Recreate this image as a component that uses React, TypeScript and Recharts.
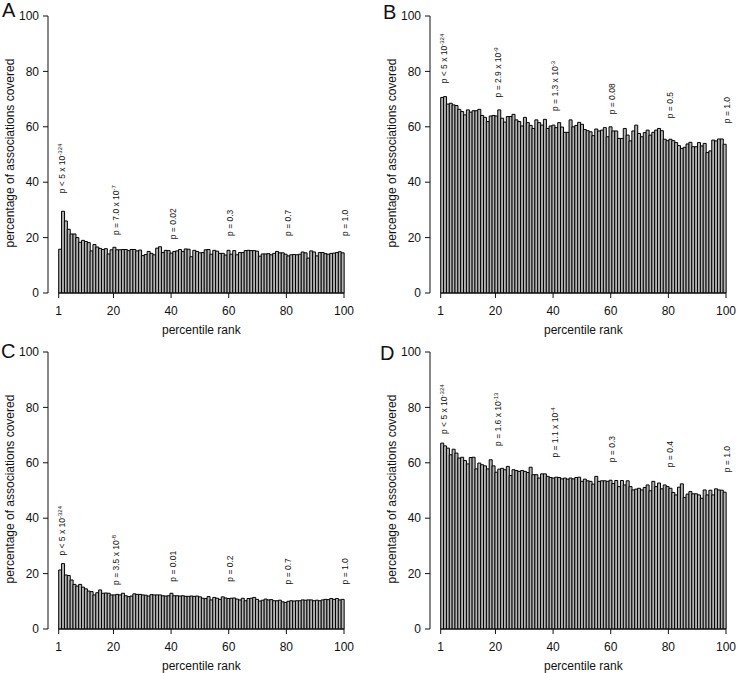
import React from 'react';
import { BarChart, Bar, XAxis, YAxis, ReferenceDot, ReferenceLine, Label } from 'recharts';

const ranks: number[] = Array.from({ length: 100 }, (_, i) => i + 1);
const xTicks = [1, 20, 40, 60, 80, 100];
const yTicks = [0, 20, 40, 60, 80, 100];
const annRanks = [1, 20, 40, 60, 80, 100];

const valuesA = [15.8, 29.5, 26.0, 23.0, 21.3, 21.3, 20.0, 18.3, 19.0, 18.6, 18.2, 15.2, 17.5, 16.6, 16.1, 15.7, 16.0, 14.1, 15.6, 16.5,
  15.6, 15.6, 15.7, 15.7, 15.3, 15.7, 15.7, 15.2, 15.5, 13.5, 13.9, 15.0, 14.3, 13.8, 16.2, 16.7, 14.6, 15.4, 15.3, 14.4,
  15.0, 15.2, 15.7, 15.0, 15.9, 15.8, 13.1, 15.4, 15.0, 14.5, 14.6, 15.6, 15.7, 14.0, 15.4, 15.1, 14.3, 14.3, 13.7, 15.4,
  14.0, 15.3, 13.8, 14.6, 14.6, 15.3, 15.4, 15.3, 15.3, 15.1, 13.3, 14.1, 14.1, 14.2, 13.8, 14.3, 15.0, 14.5, 14.5, 14.0,
  13.4, 13.8, 13.9, 13.8, 14.0, 14.8, 14.5, 12.6, 15.2, 14.8, 13.4, 14.6, 14.6, 14.2, 14.0, 14.3, 14.4, 14.6, 14.9, 14.5];

const valuesB = [70.6, 70.9, 68.2, 68.5, 67.9, 67.7, 66.3, 65.5, 64.3, 66.1, 65.3, 65.8, 65.8, 66.3, 64.1, 63.4, 61.9, 63.9, 64.1, 63.9,
  66.1, 63.1, 61.7, 63.7, 63.7, 64.5, 62.5, 61.9, 60.3, 63.4, 61.5, 60.5, 59.4, 62.5, 61.5, 60.6, 62.7, 59.4, 60.3, 60.6,
  59.7, 61.5, 59.9, 58.0, 58.0, 62.5, 60.0, 60.5, 61.6, 60.9, 59.0, 58.6, 58.2, 56.8, 59.2, 58.5, 58.8, 59.7, 56.4, 60.0,
  58.5, 58.5, 55.8, 55.8, 59.4, 57.0, 54.9, 58.5, 60.6, 57.6, 56.4, 57.9, 58.8, 57.0, 58.0, 58.8, 59.4, 58.6, 55.5, 55.0,
  55.5, 55.0, 54.3, 53.2, 52.2, 52.6, 53.8, 54.4, 52.8, 52.8, 54.3, 53.1, 54.0, 50.7, 51.3, 55.2, 54.9, 55.6, 55.6, 53.7];

const valuesC = [21.3, 23.6, 19.5, 19.3, 17.7, 16.1, 15.5, 16.1, 15.1, 14.5, 13.7, 13.5, 12.3, 13.1, 14.1, 12.9, 13.0, 12.9, 12.3, 12.3,
  12.5, 12.3, 12.9, 12.0, 11.7, 11.9, 12.7, 12.5, 12.5, 12.3, 12.2, 11.9, 12.4, 12.3, 12.3, 12.3, 12.0, 11.9, 12.0, 12.9,
  12.0, 12.0, 11.9, 12.0, 11.8, 11.8, 11.9, 11.8, 11.9, 11.6, 11.1, 11.0, 11.7, 10.5, 11.4, 11.1, 10.7, 11.6, 11.2, 11.0,
  11.1, 11.2, 10.8, 10.5, 11.1, 10.2, 11.0, 11.1, 11.4, 10.7, 10.1, 10.4, 10.8, 10.5, 10.6, 10.2, 10.2, 10.4, 9.8, 9.6,
  10.0, 10.2, 10.1, 10.2, 10.2, 10.5, 10.4, 10.5, 10.5, 10.2, 10.4, 10.2, 10.5, 10.7, 10.6, 11.0, 10.7, 11.0, 10.5, 10.7];

const valuesD = [67.1, 66.1, 65.3, 62.9, 64.9, 63.5, 61.7, 62.0, 60.8, 59.6, 61.9, 62.0, 57.8, 59.9, 59.3, 58.9, 57.8, 61.1, 58.9, 56.6,
  57.7, 58.0, 57.5, 58.7, 55.4, 57.5, 57.2, 56.9, 57.2, 56.9, 56.5, 58.4, 55.7, 55.7, 54.5, 56.0, 56.0, 55.1, 54.7, 54.5,
  54.8, 54.7, 54.2, 54.5, 54.1, 54.5, 54.2, 54.7, 54.8, 53.3, 54.1, 53.5, 53.3, 52.3, 55.1, 53.3, 53.5, 53.5, 53.3, 53.7,
  52.5, 53.6, 51.4, 53.6, 52.0, 53.5, 51.4, 50.2, 50.5, 50.8, 50.2, 51.1, 52.0, 49.9, 53.3, 51.4, 52.7, 50.6, 52.0, 51.4,
  50.8, 49.3, 48.4, 51.2, 52.4, 47.5, 48.7, 49.6, 48.8, 48.8, 48.4, 47.2, 50.2, 48.4, 50.1, 48.4, 50.6, 50.2, 50.1, 49.4];

const annMainA = ['p < 5 x 10', 'p = 7.0 x 10', 'p = 0.02', 'p = 0.3', 'p = 0.7', 'p = 1.0'];
const annSupA = ['-324', '-7', '', '', '', ''];
const annYA = [36.0, 20.9, 19.4, 20.6, 20.6, 20.6];

const annMainB = ['p < 5 x 10', 'p = 2.9 x 10', 'p = 1.3 x 10', 'p = 0.08', 'p = 0.5', 'p = 1.0'];
const annSupB = ['-324', '-9', '-3', '', '', ''];
const annYB = [75.7, 70.6, 65.7, 64.5, 63.1, 61.3];

const annMainC = ['p < 5 x 10', 'p = 3.5 x 10', 'p = 0.01', 'p = 0.2', 'p = 0.7', 'p = 1.0'];
const annSupC = ['-324', '-8', '', '', '', ''];
const annYC = [26.5, 15.9, 17.1, 17.1, 16.1, 16.1];

const annMainD = ['p < 5 x 10', 'p = 1.6 x 10', 'p = 1.1 x 10', 'p = 0.3', 'p = 0.4', 'p = 1.0'];
const annSupD = ['-324', '-13', '-4', '', '', ''];
const annYD = [70.4, 66.1, 61.9, 60.2, 58.4, 56.6];

const FONT = '"Liberation Sans", Arial, sans-serif';
const PAD_LEFT = 10.7;
const INK = '#111';

const XTitle = (props: any) => {
  const vb = props.viewBox || {};
  const cx = vb.x + PAD_LEFT + (vb.width - PAD_LEFT) / 2;
  return (
    <text x={cx} y={vb.y + 41} textAnchor="middle" fontSize={12} fill={INK} style={{ fontFamily: FONT }}>
      percentile rank
    </text>
  );
};

const YTitle = (props: any) => {
  const vb = props.viewBox || {};
  const bx = vb.x + vb.width - 34.5;
  const cy = vb.y + vb.height / 2 - 1.5;
  return (
    <text x={bx} y={cy} transform={`rotate(-90 ${bx} ${cy})`} textAnchor="middle" fontSize={12} fill={INK} style={{ fontFamily: FONT }}>
      percentage of associations covered
    </text>
  );
};

const renderAnn = (p: any, main: string, sup: string) => {
  const x = p.cx + 5;
  const y = p.cy;
  return (
    <text x={x} y={y} transform={`rotate(-90 ${x} ${y})`} fontSize={8.5} fill={INK} textAnchor="start" style={{ fontFamily: FONT }}>
      {main}
      {sup ? <tspan dy={-3.5} fontSize={6}>{sup}</tspan> : null}
    </text>
  );
};

type PanelProps = {
  values: number[];
  annMain: string[];
  annSup: string[];
  annY: number[];
  letter: string;
  left: number;
  top: number;
  letterLeft: number;
  letterTop: number;
};

function Panel({ values, annMain, annSup, annY, letter, left, top, letterLeft, letterTop }: PanelProps) {
  const data = ranks.map((r, i) => ({ rank: r, value: values[i] }));
  return (
    <>
      <div style={{ position: 'absolute', left, top, width: 368, height: 345 }}>
        <BarChart width={368} height={345} data={data} margin={{ top: 16, right: 24, bottom: 12, left: 8 }} barCategoryGap={0} barGap={0}>
          <XAxis xAxisId="cat" dataKey="rank" type="category" hide height={0} padding={{ left: PAD_LEFT, right: 0 }} />
          <XAxis
            xAxisId="num"
            dataKey="rank"
            type="number"
            domain={[1, 100]}
            allowDataOverflow
            ticks={xTicks}
            interval={0}
            padding={{ left: PAD_LEFT, right: 0 }}
            height={40}
            axisLine={false}
            tickSize={5}
            tickMargin={8}
            tick={{ fill: INK, fontSize: 12, fontFamily: FONT }}
            tickLine={{ stroke: INK }}
            label={<Label content={XTitle} />}
          />
          <YAxis
            domain={[0, 100]}
            ticks={yTicks}
            interval={0}
            width={40}
            tickSize={5}
            tickMargin={4}
            axisLine={{ stroke: INK }}
            tickLine={{ stroke: INK }}
            tick={{ fill: INK, fontSize: 12, fontFamily: FONT }}
            label={<Label content={YTitle} />}
          />
          <Bar xAxisId="cat" dataKey="value" fill="#b4b4b4" stroke="#000" strokeWidth={1} isAnimationActive={false} />
          <ReferenceLine xAxisId="num" segment={[{ x: 1, y: 0 }, { x: 100, y: 0 }]} stroke={INK} />
          {annRanks.map((r, i) => (
            <ReferenceDot
              key={r}
              xAxisId="cat"
              x={r}
              y={annY[i]}
              r={1}
              shape={(p: any) => renderAnn(p, annMain[i], annSup[i])}
            />
          ))}
        </BarChart>
      </div>
      <div
        style={{
          position: 'absolute',
          left: letterLeft,
          top: letterTop,
          fontSize: 20,
          lineHeight: '20px',
          fontFamily: FONT,
          color: INK,
        }}
      >
        {letter}
      </div>
    </>
  );
}

export default function App() {
  return (
    <div style={{ position: 'absolute', left: 0, top: 0, width: 737, height: 673, overflow: 'hidden', background: '#fff', fontFamily: FONT }}>
      <Panel values={valuesA} annMain={annMainA} annSup={annSupA} annY={annYA} letter="A" left={0} top={0} letterLeft={2} letterTop={0} />
      <Panel values={valuesB} annMain={annMainB} annSup={annSupB} annY={annYB} letter="B" left={382} top={0} letterLeft={383} letterTop={2} />
      <Panel values={valuesC} annMain={annMainC} annSup={annSupC} annY={annYC} letter="C" left={0} top={336} letterLeft={1} letterTop={341} />
      <Panel values={valuesD} annMain={annMainD} annSup={annSupD} annY={annYD} letter="D" left={382} top={336} letterLeft={380} letterTop={343} />
    </div>
  );
}
